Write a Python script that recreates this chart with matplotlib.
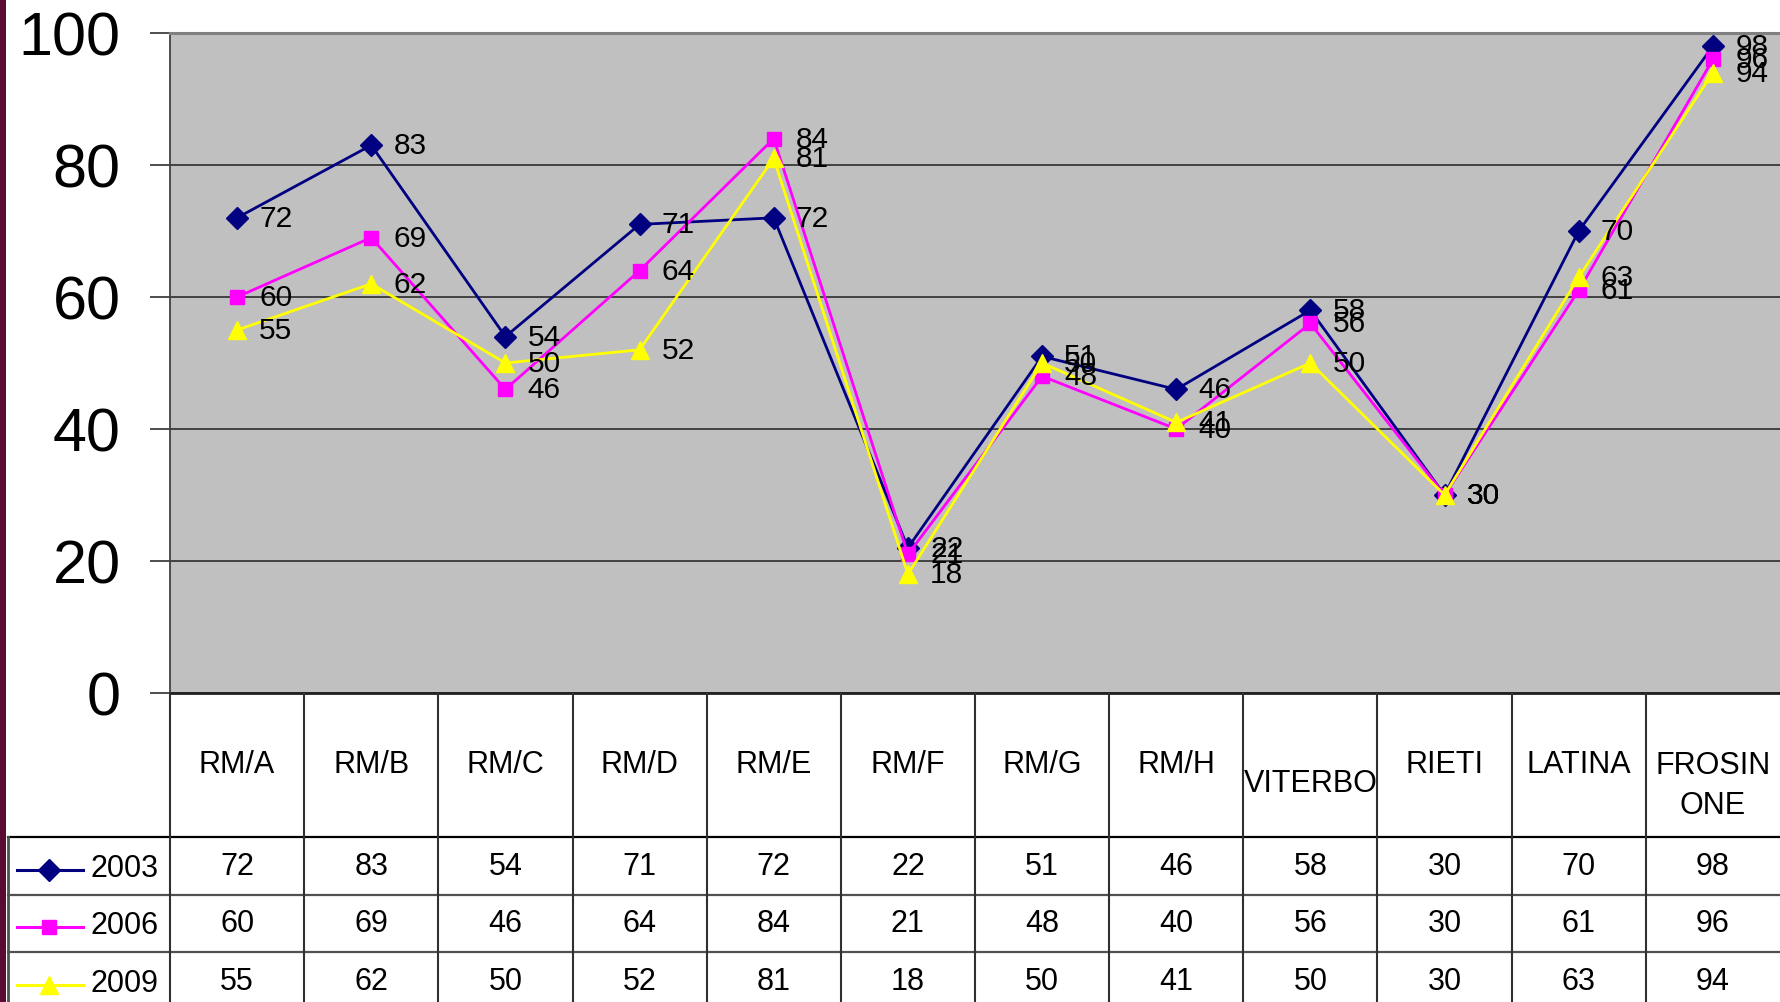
import matplotlib
matplotlib.use("Agg")
import matplotlib.pyplot as plt
from matplotlib.patches import Rectangle
from matplotlib.lines import Line2D

# ---- data ----
categories = ["RM/A", "RM/B", "RM/C", "RM/D", "RM/E", "RM/F", "RM/G",
              "RM/H", "VITERBO", "RIETI", "LATINA", "FROSIN\nONE"]
years = ["2003", "2006", "2009"]
values_2003 = [72, 83, 54, 71, 72, 22, 51, 46, 58, 30, 70, 98]
values_2006 = [60, 69, 46, 64, 84, 21, 48, 40, 56, 30, 61, 96]
values_2009 = [55, 62, 50, 52, 81, 18, 50, 41, 50, 30, 63, 94]
y_ticks = [0, 20, 40, 60, 80, 100]

series = [values_2003, values_2006, values_2009]
colors = ["#000080", "#FF00FF", "#FFFF00"]
markers = ["D", "s", "^"]
msizes = [11, 10, 13]

W, H = 1780, 1003
fig = plt.figure(figsize=(W / 100, H / 100), dpi=100)
plt.rcParams["font.family"] = ["Liberation Sans", "DejaVu Sans"]

# left decorative strip
fig.patches.append(Rectangle((0, 0), 6 / W, 1, transform=fig.transFigure,
                             facecolor="#5a0a33", edgecolor="none"))

# plot region in pixels
L, R, T, B = 170, 1780, 34, 694
ax = fig.add_axes([L / W, 1 - B / H, (R - L) / W, (B - T) / H])
ax.set_facecolor("#C0C0C0")
n = len(categories)
ax.set_xlim(-0.5, n - 0.5)
ax.set_ylim(0, 100)
ax.set_xticks([])
ax.set_yticks(y_ticks)
ax.set_yticklabels([str(t) for t in y_ticks], fontsize=44)
ax.tick_params(axis="y", length=14.4, width=1.3, color="#404040", pad=21)
ax.yaxis.grid(True, color="#202020", linewidth=1.1, zorder=1)
ax.set_axisbelow(True)
ax.spines["right"].set_visible(False)
ax.spines["top"].set_color("#808080")
ax.spines["top"].set_linewidth(2.2)
ax.spines["left"].set_color("#404040")
ax.spines["left"].set_linewidth(1.3)
ax.spines["bottom"].set_color("#202020")
ax.spines["bottom"].set_linewidth(2.0)

x = list(range(n))
for vals, c, m, ms in zip(series, colors, markers, msizes):
    ax.plot(x, vals, color=c, marker=m, markersize=ms, linewidth=2.0,
            markeredgecolor=c, zorder=3, clip_on=False)
for vals in series:
    for i, v in enumerate(vals):
        ax.annotate(str(v), (i, v), xytext=(16, 0), textcoords="offset points",
                    ha="left", va="center", fontsize=21.5, color="black",
                    zorder=4, annotation_clip=False)

# ---- data table below the plot ----
tab = fig.add_axes([L / W, 0, (R - L) / W, (H - B) / H])
tab.set_xlim(-0.5, n - 0.5)
tab.set_ylim(H - B, 0)
tab.axis("off")
col_w = (R - L) / n


def px2x(px):
    return (px - L) / col_w - 0.5


header_h = 144
row_h = 57.5
line_col = "#303030"
x_left = px2x(8)

# horizontal rules
tab.add_line(Line2D([x_left, n - 0.5], [header_h, header_h], color="black",
                    lw=1.6, clip_on=False))
for k in (1, 2):
    yy = header_h + k * row_h
    tab.add_line(Line2D([x_left, n - 0.5], [yy, yy], color="#505050",
                        lw=1.6, clip_on=False))
# vertical rules
for k in range(n):
    tab.add_line(Line2D([k - 0.5, k - 0.5], [0, H - B], color=line_col,
                        lw=1.5, clip_on=False))
tab.add_line(Line2D([x_left, x_left], [header_h, H - B], color="#505050",
                    lw=2.0, clip_on=False))

# header labels
for i, cat in enumerate(categories):
    yc = 71
    if cat == "VITERBO":
        yc = 90
    elif "\n" in cat:
        yc = 92
    tab.text(i, yc, cat, ha="center", va="center", fontsize=22,
             linespacing=1.45, clip_on=False)

# value rows with legend keys
for r, (vals, c, m, ms, yr) in enumerate(zip(series, colors, markers, msizes, years)):
    yc = header_h + r * row_h + row_h / 2
    tab.add_line(Line2D([px2x(17), px2x(83)], [yc + 4, yc + 4], color=c, lw=2.2,
                        clip_on=False))
    tab.add_line(Line2D([px2x(49)], [yc + 4], color=c, marker=m, markersize=ms,
                        markeredgecolor=c, clip_on=False))
    tab.text(px2x(90), yc + 2, yr, ha="left", va="center", fontsize=22,
             clip_on=False)
    for i, v in enumerate(vals):
        tab.text(i, yc, str(v), ha="center", va="center", fontsize=22,
                 clip_on=False)

fig.savefig("out.png", dpi=100)
